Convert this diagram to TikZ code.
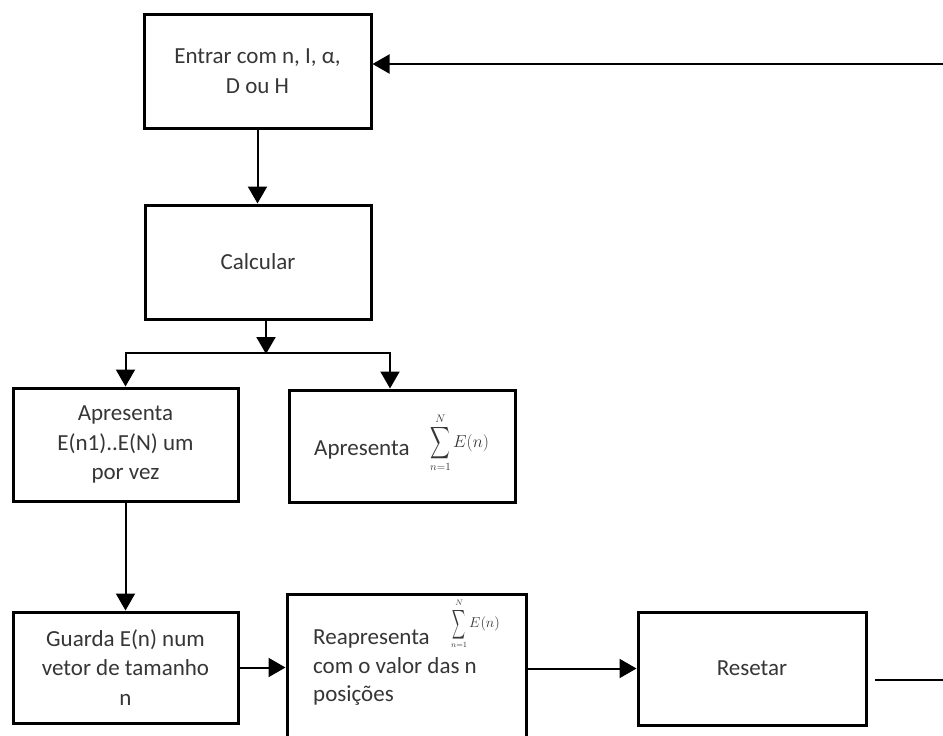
\documentclass[tikz,border=0pt]{standalone}
\usepackage{amsmath}
\usepackage{fontspec}
\setmainfont{Carlito}
\usetikzlibrary{arrows.meta}
\definecolor{txt}{HTML}{363636}
\newcommand{\bigsumop}[2]{\mathop{\vcenter{\hbox{\scalebox{#1}[#2]{$\displaystyle\sum$}}}}\limits}
\newcommand{\sizedE}[1]{\mbox{\fontsize{#1}{#1}\selectfont$E(n)$}}
\tikzset{
  box/.style={draw=black, line width=3pt, fill=white, inner sep=0pt, text=txt, align=center,
    font=\fontsize{23}{29.5}\selectfont},
  lbl/.style={inner sep=0pt, text=txt, font=\fontsize{23}{28.5}\selectfont},
  sumlbl/.style={inner sep=0pt, text=txt, anchor=west},
  conn/.style={draw=black, line width=2pt},
  arr/.style={conn, -{Triangle[length=17pt,width=19pt]}},
}
\begin{document}
\begin{tikzpicture}[x=1pt,y=-1pt]
\useasboundingbox (0,0) rectangle (943,736);
\clip (0,0) rectangle (943,736);
\fill[white] (0,0) rectangle (943,736);
% boxes
\node[box, minimum width=227pt, minimum height=114pt] (b1) at (257.5,71) {Entrar com n, I, α,\\D ou H};
\node[box, minimum width=226pt, minimum height=114pt] (b2) at (258,262) {Calcular};
\node[box, minimum width=225pt, minimum height=113pt] (b3) at (125.5,444.5) {Apresenta\\E(n1)..E(N) um\\por vez};
\node[box, minimum width=226pt, minimum height=112pt] (b4) at (402,446) {};
\node[box, minimum width=225pt, minimum height=111pt] (b5) at (125.5,667.5) {Guarda E(n) num\\vetor de tamanho\\n};
\node[box, minimum width=239pt, minimum height=170pt] (b6) at (406.5,679) {};
\node[box, minimum width=228pt, minimum height=113pt] (b7) at (752,668.5) {Resetar};
% texts of b4 and b6
\node[lbl, anchor=base west] (b4t) at (314,455) {Apresenta};
\node[sumlbl, font=\fontsize{15}{18}\selectfont] (b4s) at (430,443) {$\bigsumop{0.95}{1.55}_{n=1}^{N} \sizedE{17}$};
\node[lbl, anchor=north west, align=left] (b6t) at (313,630) {Reapresenta\\com o valor das n\\posições};
\node[sumlbl, font=\fontsize{12}{14}\selectfont] (b6s) at (451,624) {$\bigsumop{0.75}{1.7}_{n=1}^{N} \sizedE{15}$};
% connectors
\coordinate (loopin) at (943,64);
\draw[arr] (loopin) -- (loopin -| b1.east);
\draw[arr] (b1.south) -- (b1.south |- b2.north);
\coordinate (split) at (266,353);
\draw[arr] ([xshift=8pt]b2.south) -- ([yshift=-1pt]split);
\draw[arr] (split) -| (b3.north);
\draw[arr] (split) -| ([xshift=-12pt]b4.north);
\draw[arr] (b3.south) -- (b3.south |- b5.north);
\draw[arr] (b5.east) -- (b5.east -| b6.west);
\draw[arr] (b7.west -| b6.east) -- (b7.west);
\coordinate (outA) at (875,680);
\coordinate (outB) at (943,680);
\draw[conn] (outA) -- (outB);
\end{tikzpicture}
\end{document}
